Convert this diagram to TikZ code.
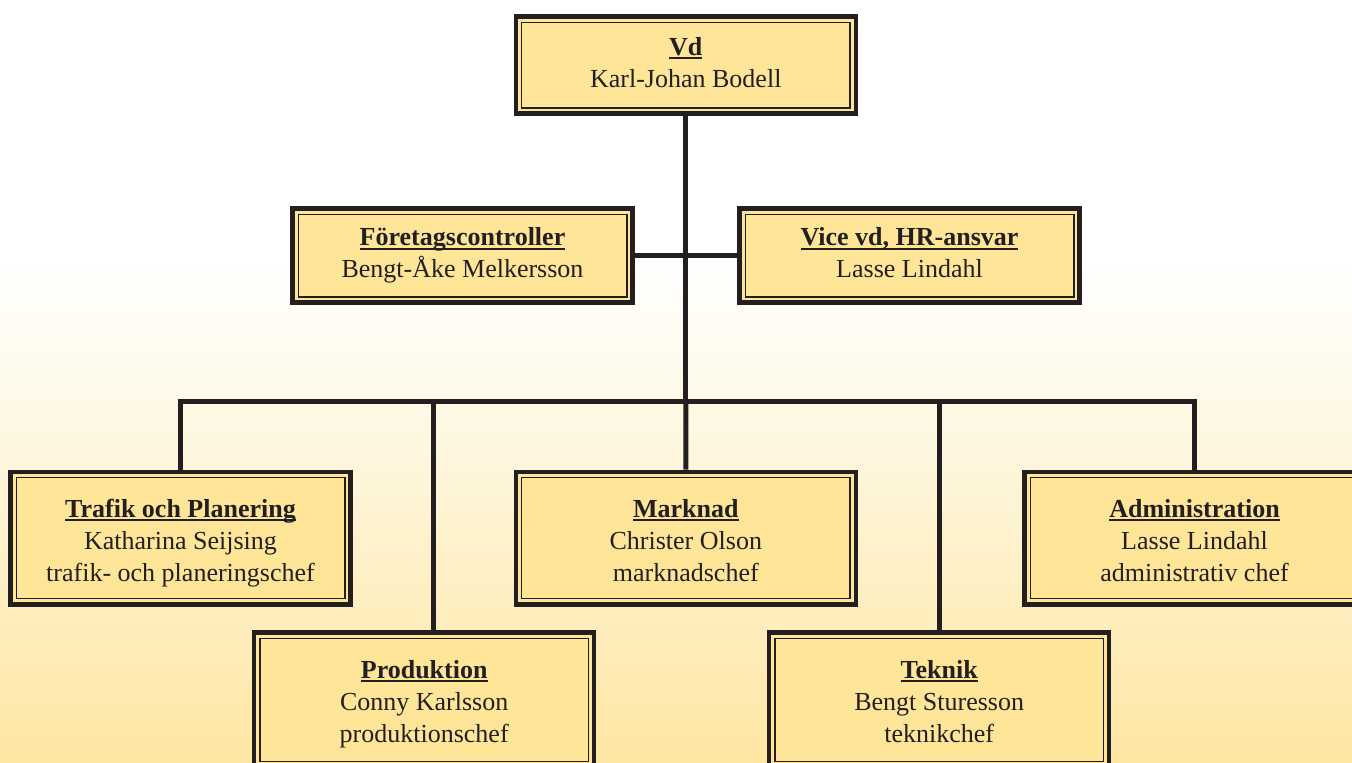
\documentclass[tikz,border=0pt]{standalone}
\usepackage{fontspec}
\setmainfont{Liberation Serif}
\definecolor{ink}{HTML}{231F20}
\definecolor{boxfill}{HTML}{FEE597}
\definecolor{bgbot}{HTML}{FEE6A2}
\definecolor{bgmid}{HTML}{FEF8E4}
\newsavebox\ulbx
\newcommand\ulx[1]{\sbox\ulbx{#1}\rlap{\rule[-3.6pt]{\wd\ulbx}{1.9pt}}\usebox\ulbx}
\newcommand\ttl[1]{\rule{0pt}{22.4pt}\textbf{\ulx{#1}}}
\newcommand\ttlt[1]{\rule{0pt}{31.6pt}\textbf{\ulx{#1}}}
\newcommand\lastl[1]{#1\rule[-9.6pt]{0pt}{9.6pt}}
\tikzset{
  orgbox/.style={draw=ink, line width=4.5pt, fill=boxfill, minimum width=340pt,
    inner sep=0pt, align=center, text=ink,
    font=\fontsize{26}{32}\selectfont,
    path picture={\draw[ink, line width=1.4pt]
      ([shift={(5.7pt,-5.7pt)}]path picture bounding box.north west) rectangle
      ([shift={(-5.7pt,5.7pt)}]path picture bounding box.south east);}},
  tallbox/.style={orgbox, minimum height=132.5pt},
  conn/.style={draw=ink, line width=5pt, line join=miter}
}
\begin{document}
\begin{tikzpicture}[x=1pt,y=-1pt]
\useasboundingbox (0,0) rectangle (1352,763);
\clip (0,0) rectangle (1352,763);
\fill[white] (0,0) rectangle (1352,260);
\shade[top color=white, bottom color=bgmid] (0,259.5) rectangle (1352,420);
\shade[top color=bgmid, bottom color=bgbot] (0,419.5) rectangle (1352,763);
% junction coordinates
\coordinate (bar) at (686,401);
\coordinate (pdrop) at (433.5,401);
% boxes
\node[orgbox, minimum height=97pt] (vd) at (685.8,65) {\ttl{Vd}\\\lastl{Karl-Johan Bodell}};
\node[orgbox, minimum height=94pt] (fc) at (462.5,255.5) {\ttl{Företagscontroller}\\\lastl{Bengt-Åke Melkersson}};
\node[orgbox, minimum height=94pt] (vice) at (909.5,255.5) {\ttl{Vice vd, HR-ansvar}\\\lastl{Lasse Lindahl}};
\node[tallbox] (trafik) at (180.5,538) {\ttlt{Trafik och Planering}\\Katharina Seijsing\\\lastl{trafik- och planeringschef}};
\node[tallbox] (marknad) at (685.8,538) {\ttlt{Marknad}\\Christer Olson\\\lastl{marknadschef}};
\node[tallbox] (admin) at (1194.5,538) {\ttlt{Administration}\\Lasse Lindahl\\\lastl{administrativ chef}};
\node[tallbox, minimum height=134.5pt] (prod) at (424.2,699.75) {\ttlt{Produktion}\\Conny Karlsson\\\lastl{produktionschef}};
\node[tallbox, minimum height=134.5pt] (teknik) at (939.2,699.75) {\ttlt{Teknik}\\Bengt Sturesson\\\lastl{teknikchef}};
% connectors
\draw[conn] (vd.south) -- (vd.south |- bar);
\draw[conn] (fc.east) -- (vice.west);
\draw[conn] (trafik.north) |- (bar) -| (admin.north);
\draw[conn] (bar) -- (marknad.north);
\draw[conn] (pdrop) -- (pdrop |- prod.north);
\draw[conn] (teknik.north |- bar) -- (teknik.north);
\end{tikzpicture}
\end{document}
